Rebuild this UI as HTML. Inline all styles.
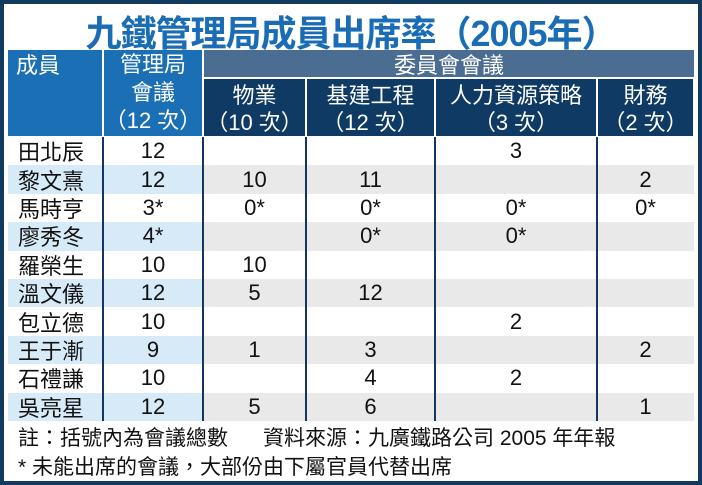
<!DOCTYPE html>
<html><head><meta charset="utf-8">
<style>
*{margin:0;padding:0;box-sizing:border-box}
body{width:702px;height:485px;background:#fff;font-family:"Liberation Sans","Noto Sans CJK TC",sans-serif;overflow:hidden}
#frame{position:absolute;left:0;top:0;width:702px;height:485px;border:4px solid #123a5e;background:#fff}
.a{position:absolute;display:flex;align-items:center;justify-content:center;text-align:center}
#title{left:0;top:4px;width:694px;height:46px;font-size:36px;font-weight:bold;color:#1a6db5;letter-spacing:-1px}
.h1{background:#1b6fb5;color:#fff;font-size:22px;line-height:28px}
.h2{background:#4b6d92;color:#fff;font-size:22px}
.h3{background:#0e3a63;color:#fff;font-size:22px;line-height:27px}
.cell{font-size:22px;color:#111}
.vl{position:absolute;width:2px;background:#15355c}
.note{position:absolute;font-size:21px;color:#111;white-space:pre}
</style></head><body>
<div id="frame">
<div class="a" id="title">九鐵管理局成員出席率（2005年）</div>
</div>
<div id="tbl"></div>
<div class="note" style="left:18px;top:422px">註：括號內為會議總數      資料來源：九廣鐵路公司 2005 年年報</div>
<div class="note" style="left:18px;top:451px">* 未能出席的會議，大部份由下屬官員代替出席</div>
<script>
const members=["田北辰","黎文熹","馬時亨","廖秀冬","羅榮生","溫文儀","包立德","王于漸","石禮謙","吳亮星"];
const board=["12","12","3*","4*","10","12","10","9","10","12"];
const estate=["","10","0*","","10","5","","1","","5"];
const infra=["","11","0*","0*","","12","","3","4","6"];
const hr=["3","","0*","0*","","","2","","2",""];
const finance=["","2","0*","","","","","2","","1"];
const cols=[[8,103],[103,203],[203,306],[306,435],[435,597],[597,694]];
const T=document.getElementById('tbl');
function box(x,y,w,h,cls,html,name){const d=document.createElement('div');d.className='a '+cls;d.style.cssText=`left:${x}px;top:${y}px;width:${w}px;height:${h}px`;d.innerHTML=html;


T.appendChild(d);return d;}
box(8,50,94,86,'h1','成員','header-member').style.cssText+=';align-items:flex-start;justify-content:flex-start;padding:2px 0 0 8px';
box(104,50,98,86,'h1','管理局<br>會議<br>（12 次）','header-board');
box(204,50,490,27,'h2','委員會會議','header-committee');
const subs=["物業<br>（10 次）","基建工程<br>（12 次）","人力資源策略<br>（3 次）","財務<br>（2 次）"];
const subn=["header-estate","header-infra","header-hr","header-finance"];
for(let i=0;i<4;i++){const c=cols[i+2];box(c[0]+1,79,c[1]-c[0]-2,57,'h3',subs[i],subn[i]).style.paddingTop='2px';}
const data=[estate,infra,hr,finance];
const y0=137,rh=28.4;
for(let r=0;r<members.length;r++){
 const y=y0+r*rh,alt=r%2==1;
 if(alt){box(8,y,195,rh,'','', 'row-highlight-'+r).style.background='#d7eaf8';
   box(203,y,491,rh,'','', 'row-stripe-'+r).style.background='#e9e9e9';}
 const n=box(8,y,95,rh,'cell',members[r],'member-name');n.style.justifyContent='flex-start';n.style.paddingLeft='10px';
 box(103,y,100,rh,'cell',board[r],'board-attendance');
 for(let k=0;k<4;k++){const c=cols[k+2];box(c[0],y,c[1]-c[0],rh,'cell',data[k][r],'committee-attendance');}
}
for(const x of [102,202,305,434,596]){const v=document.createElement('div');v.className='vl';v.style.cssText=`left:${x}px;top:137px;height:${rh*members.length}px`;


T.appendChild(v);}
</script>
</body></html>
